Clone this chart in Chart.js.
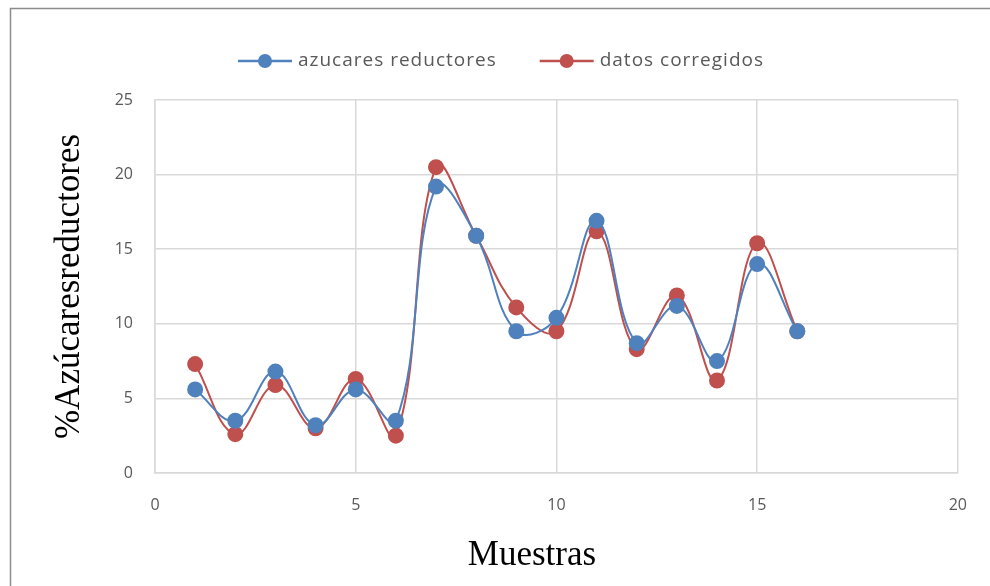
<!DOCTYPE html>
<html>
<head>
<meta charset="utf-8">
<script src="https://cdn.jsdelivr.net/npm/chart.js@4.4.1/dist/chart.umd.min.js"></script>
<style>
  html, body { margin: 0; padding: 0; background: #fff; }
  #wrap { width: 990px; height: 586px; }
</style>
</head>
<body>
<div id="wrap"><canvas id="myChart" width="990" height="586"></canvas></div>
<script>
const muestras = [1, 2, 3, 4, 5, 6, 7, 8, 9, 10, 11, 12, 13, 14, 15, 16];
const azucaresReductores = [5.6, 3.5, 6.8, 3.2, 5.6, 3.5, 19.2, 15.9, 9.5, 10.4, 16.9, 8.7, 11.2, 7.5, 14.0, 9.5];
const datosCorregidos = [7.3, 2.6, 5.9, 3.0, 6.3, 2.5, 20.5, 15.9, 11.1, 9.5, 16.2, 8.3, 11.9, 6.2, 15.4, 9.5];
const xTicks = [0, 5, 10, 15, 20];
const yTicks = [0, 5, 10, 15, 20, 25];

const blue = '#4F81BD';
const red = '#C0504D';
const gridColor = '#D9D9D9';
const textGray = '#595959';

function toPoints(values) {
  return muestras.map((m, i) => ({ x: m, y: values[i] }));
}

// outer frame, legend with line-through-dot symbols and the x title
const excelDecor = {
  id: 'excelDecor',
  beforeDraw(chart) {
    const ctx = chart.ctx;
    ctx.save();
    ctx.strokeStyle = '#8C8C8C';
    ctx.lineWidth = 1.5;
    ctx.strokeRect(10.5, 8.5, 1000, 600);
    ctx.restore();
  },
  afterDraw(chart) {
    const ctx = chart.ctx;
    const items = chart.data.datasets;
    const symW = 54, gap = 6, spacing = 43, y = 61;
    ctx.save();
    ctx.font = '19px "Open Sans"';
    ctx.letterSpacing = '1px';
    ctx.textBaseline = 'middle';
    let total = 0;
    items.forEach((d, i) => {
      total += symW + gap + ctx.measureText(d.label).width;
      if (i > 0) total += spacing;
    });
    let x = 501 - total / 2;
    items.forEach(d => {
      ctx.strokeStyle = d.borderColor;
      ctx.lineWidth = 2.5;
      ctx.beginPath();
      ctx.moveTo(x, y);
      ctx.lineTo(x + symW, y);
      ctx.stroke();
      ctx.fillStyle = d.borderColor;
      ctx.beginPath();
      ctx.arc(x + symW / 2, y, 7, 0, Math.PI * 2);
      ctx.fill();
      ctx.fillStyle = textGray;
      ctx.fillText(d.label, x + symW + gap, y);
      x += symW + gap + ctx.measureText(d.label).width + spacing;
    });
    ctx.letterSpacing = '0px';
    ctx.font = '35px "Liberation Serif"';
    ctx.fillStyle = '#000';
    ctx.textAlign = 'center';
    ctx.fillText('Muestras', 532, 556);
    ctx.restore();
  }
};

const data = {
  datasets: [{
    label: 'azucares reductores',
    data: toPoints(azucaresReductores),
    borderColor: blue,
    backgroundColor: blue,
    pointBackgroundColor: blue,
    pointBorderColor: blue,
    borderWidth: 2,
    pointRadius: 7,
    tension: 0.4
  },
  {
    label: 'datos corregidos',
    data: toPoints(datosCorregidos),
    borderColor: red,
    backgroundColor: red,
    pointBackgroundColor: red,
    pointBorderColor: red,
    borderWidth: 2,
    pointRadius: 7,
    tension: 0.4
  }]
};

const chartOptions = {
  responsive: false,
  animation: false,
  layout: { padding: { left: 49, top: 100, right: 32, bottom: 11 } },
  plugins: {
    legend: { display: false },
    tooltip: { enabled: false }
  },
  scales: {
    x: {
      type: 'linear',
      min: 0,
      max: 20,
      afterBuildTicks: s => { s.ticks = xTicks.map(v => ({ value: v })); },
      afterFit: s => { s.height = 102; },
      grid: { color: gridColor, lineWidth: 1.5, drawTicks: false },
      border: { color: gridColor, width: 1.5 },
      ticks: { color: textGray, padding: 23, font: { family: 'Open Sans', size: 16 } }
    },
    y: {
      min: 0,
      max: 25,
      afterBuildTicks: s => { s.ticks = yTicks.map(v => ({ value: v })); },
      afterFit: s => { s.width = 106; },
      grid: { color: gridColor, lineWidth: 1.5, drawTicks: false },
      border: { color: gridColor, width: 1.5 },
      ticks: { color: textGray, padding: 22, font: { family: 'Open Sans', size: 16 } },
      title: {
        display: true,
        text: '%Azúcaresreductores',
        color: '#000',
        padding: 0,
        font: { family: 'Liberation Serif', size: 35 }
      }
    }
  }
};

const myChart = new Chart(document.getElementById('myChart'), {
  type: 'line',
  data: data,
  options: chartOptions,
  plugins: [excelDecor]
});
</script>
</body>
</html>
